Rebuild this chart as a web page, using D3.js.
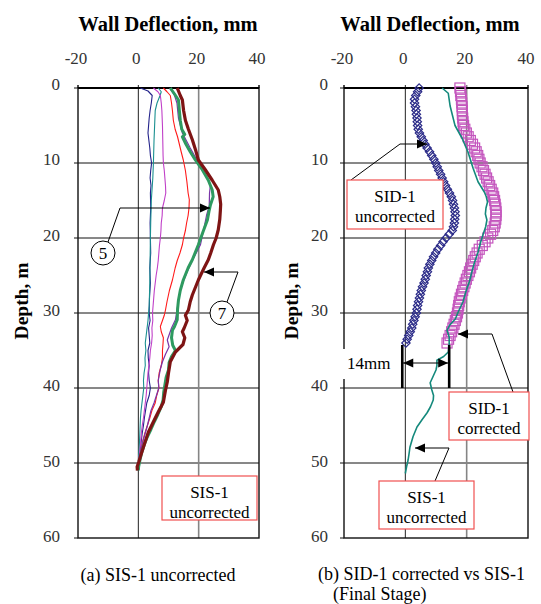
<!DOCTYPE html>
<html><head><meta charset="utf-8">
<script src="https://cdn.jsdelivr.net/npm/d3@7"></script>
<style>body{margin:0;background:#fff} svg{display:block} text{font-family:'Liberation Serif','Times New Roman',Times,serif}</style>
</head><body>
<svg id="c" width="541" height="604"></svg>
<script>
// ---------- DATA ----------
const xTicks = [-20, 0, 20, 40];
const yTicks = [0, 10, 20, 30, 40, 50, 60];

// Panel (a): SIS-1 uncorrected, [depth m, deflection mm]
const sisNavy = [[0,0.7],[0.4,3.2],[1,4.6],[2,4.3],[3,3.9],[4,3.6],[5,3.4],[6,3.2],[7,3.5],[8,3.8],[9,4.0],[10,4.4],[11,4.1],[12,3.9],[13,4.2],[14,4.0],[16,4.1],[18,3.9],[20,4.0],[22,4.1],[24,3.8],[26,4.0],[28,3.7],[30,3.6],[31,3.9],[32,3.4],[33,3.6],[34,3.8],[35,3.2],[36,3.3],[37,3.6],[38,3.4],[39,3.6],[40,4.0],[41,3.6],[42,2.8],[43,2.4],[44,2.0],[45,1.7],[46,1.3],[47,1.0],[48,0.7],[49,0.4],[50,0.1],[51,0]];
const sisTeal = [[0,6.6],[0.5,7.6],[1,7.2],[2,6.2],[3,5.6],[5,5.4],[7,5.2],[10,5.0],[12,4.8],[15,4.3],[18,4.1],[20,4.0],[23,3.9],[26,3.8],[29,3.6],[31,3.2],[33,2.6],[34,2.3],[35,2.5],[36,2.2],[37,2.3],[38,1.9],[39,1.7],[40,1.8],[41,1.5],[42,1.2],[43,0.9],[44,0.7],[45,0.6],[46,0.5],[47,0.4],[48,0.3],[49,0.1],[50,0]];
const sisMagenta = [[0,5.0],[0.5,6.5],[1,7.3],[2,7.6],[3,7.8],[5,8.0],[7,8.1],[9,8.2],[10,8.3],[11,8.6],[12,8.8],[13,9.0],[14,9.1],[15,8.6],[16,8.0],[17,7.9],[18,7.6],[19,7.5],[20,7.3],[21,7.0],[22,6.8],[23,6.6],[24,6.3],[25,5.9],[26,5.6],[27,5.3],[28,5.1],[29,4.9],[30,4.7],[31,4.8],[32,4.5],[33,4.6],[34,4.4],[35,4.0],[36,3.8],[37,3.5],[38,3.2],[39,3.0],[40,2.8],[41,2.6],[42,2.3],[43,2.0],[44,1.7],[45,1.3],[46,1.0],[47,0.8],[48,0.6],[49,0.3],[50,0.1]];
const sisRed = [[0,8.3],[0.5,9.5],[1,10.6],[2,11.0],[3,11.3],[4.3,11.6],[5.5,12.2],[6.5,13.0],[7.5,13.6],[8.5,14.2],[9.6,14.9],[11,15.6],[12.5,16.1],[14,16.5],[14.9,16.9],[16,16.8],[17,16.5],[18,16.0],[19,15.6],[20,15.0],[20.9,14.6],[22,13.8],[23,12.9],[24,12.2],[25.6,11.3],[27,10.3],[28.5,9.5],[29.6,9.0],[30.3,8.6],[31,8.0],[31.8,7.3],[32.5,7.6],[33.3,8.3],[34,8.2],[35,8.0],[36,8.0],[37,7.6],[38,6.9],[39,6.6],[40,6.8],[41,6.1],[42,5.6],[43,4.5],[44,3.8],[45,3.0],[46,2.2],[47,1.5],[48,1.0],[49,0.5],[50,0.2]];
const sisPurple = [[0,10.4],[1,12.0],[2,12.8],[4,13.3],[6,14.6],[8,17.2],[9.5,19.3],[11,21.5],[12.2,23.0],[12.9,23.9],[14,23.6],[15.7,23.5],[17,22.6],[19,21.6],[20.9,20.6],[22,19.2],[23,17.9],[24.5,16.2],[25.8,14.9],[26.9,13.9],[28.5,13.2],[29.5,12.9],[30.9,12.3],[32,11.0],[33.6,9.6],[34.5,10.2],[35.5,9.0],[36.5,8.0],[37.5,7.3],[39,6.6],[40,6.8],[41,6.0],[42,5.2],[43,4.2],[44,3.6],[45,3.0],[46,2.3],[47,1.6],[48,1.0],[49,0.5],[50,0.2]];
const sisGreen = [[0,10.6],[0.8,12.0],[1.6,13.3],[3,13.6],[4.3,13.9],[5.5,14.4],[6.2,15.4],[6.5,14.6],[7.5,15.8],[8.5,17.2],[9.6,18.9],[10.9,21.2],[12.3,23.2],[13.6,24.5],[14.5,24.8],[15.6,23.9],[16.5,23.4],[17.6,22.9],[19,21.6],[20.9,19.9],[22,18.8],[22.9,17.9],[24,16.5],[25.6,14.9],[27,13.9],[28.3,13.3],[29.5,13.0],[30.9,12.9],[31.8,12.0],[32.3,11.3],[33.3,11.0],[34.3,11.4],[35,12.3],[35.8,11.0],[36.6,10.2],[37.6,10.0],[38.6,9.2],[39.6,8.8],[40.6,8.4],[41.6,8.2],[42.5,7.6],[43.5,6.5],[44.5,5.3],[45.5,4.2],[46.5,3.0],[47.5,2.0],[48.5,1.2],[49.5,0.6],[50.5,0.1],[51,0]];
const sisFinal = [[0,12.9],[1,13.9],[1.6,14.6],[3,15.0],[4.3,15.6],[5.5,16.6],[6.9,17.9],[8.3,19.0],[9.6,19.9],[10.9,22.2],[12.3,24.5],[13.6,26.5],[14.5,27.0],[15.5,27.3],[16.3,27.2],[17.5,27.0],[18.9,26.5],[20,25.8],[20.9,24.9],[22,24.0],[22.9,23.2],[24,21.8],[25,20.6],[25.6,19.9],[26.5,19.0],[27.6,17.9],[28.5,17.2],[29.6,16.6],[30.3,15.6],[31,16.2],[32,15.2],[32.5,14.6],[33.3,15.4],[34.2,14.8],[35.2,12.3],[36.5,10.6],[38,10.0],[39.2,9.6],[40.3,9.0],[41.9,8.3],[43.2,6.6],[44.5,5.0],[45.9,3.3],[47,2.4],[48,1.6],[49,0.8],[49.8,0.2],[50.5,-0.4],[51,-0.3]];

// Panel (b)
const sidDepths = d3.range(0, 34.01, 0.5);
const sidUncorrected = [4.5,4.0,3.4,3.0,3.0,3.3,3.5,3.6,3.8,3.9,4.0,4.2,4.6,5.2,5.8,6.4,7.1,7.9,8.6,9.3,9.9,10.4,10.9,11.5,12.0,12.5,13.1,13.7,14.4,15.0,15.4,15.7,16.0,16.2,16.3,16.1,16.0,15.7,15.3,14.3,13.3,12.3,11.5,10.6,9.9,9.2,8.6,8.0,7.5,7.2,6.8,6.5,6.1,5.6,5.2,4.9,4.6,4.3,4.0,3.8,3.6,3.2,2.8,2.4,2.1,1.6,1.1,0.6,0.2];
const sidCorrected = [17.8,18.0,18.1,18.3,18.4,18.5,18.6,18.6,18.7,18.8,19.0,19.4,19.9,20.5,21.2,21.9,22.6,23.1,23.6,24.0,24.4,25.0,25.5,26.0,26.5,27.0,27.5,28.0,28.5,28.8,29.1,29.3,29.5,29.6,29.6,29.5,29.3,29.0,28.5,27.8,26.9,26.0,25.1,24.1,23.4,22.8,22.3,21.8,21.3,20.9,20.4,19.9,19.5,19.1,18.7,18.3,17.9,17.6,17.4,17.2,17.0,16.7,16.3,15.9,15.5,15.1,14.6,14.1,13.6];
const sisFinalB = [[0,12.0],[0.7,14.0],[2.4,14.6],[5,16.2],[6.7,18.5],[8.5,20.4],[10.7,22.1],[12.5,23.7],[13.9,25.8],[14.5,26.4],[15.2,26.8],[16.0,26.3],[16.8,26.1],[17.6,26.6],[18.5,26.2],[19.6,25.3],[20.5,24.6],[21.9,23.7],[23.2,22.6],[24.5,21.7],[25.8,20.9],[27.2,19.7],[28.5,18.8],[29.9,17.2],[30.8,16.3],[31.6,14.5],[32.3,13.6],[33.2,14.3],[34.2,14.3],[35.2,14.0],[35.8,12.5],[36.3,10.3],[37.0,10.3],[37.6,10.0],[38.5,9.0],[39.3,8.1],[40.2,8.6],[41.0,9.2],[41.6,9.1],[42.5,8.2],[43.3,7.1],[44.2,5.5],[45.2,3.8],[46.5,2.5],[47.9,1.5],[48.8,1.2],[49.6,0.9],[50.5,0.4],[51.4,0]];

// ---------- DRAW ----------
const svg = d3.select('#c');

function panel(cfg) {
  const x = d3.scaleLinear().domain([-20, 40]).range([cfg.left, cfg.right]);
  const y = d3.scaleLinear().domain([0, 60]).range([88, 538]);
  const g = svg.append('g');
  g.selectAll('.hg').data(yTicks.slice(1, -1)).join('line')
    .attr('x1', cfg.left - 4).attr('x2', cfg.right)
    .attr('y1', d => y(d)).attr('y2', d => y(d))
    .attr('stroke', '#111').attr('stroke-width', 1);
  g.append('line').attr('x1', cfg.left - 4).attr('x2', cfg.left).attr('y1', y(60)).attr('y2', y(60)).attr('stroke', '#111');
  g.append('line').attr('x1', cfg.left - 4).attr('x2', cfg.left).attr('y1', y(0)).attr('y2', y(0)).attr('stroke', '#111');
  g.append('line').attr('x1', x(0)).attr('x2', x(0)).attr('y1', y(0) - 3).attr('y2', y(60))
    .attr('stroke', '#222').attr('stroke-width', 1);
  g.append('line').attr('x1', x(20)).attr('x2', x(20)).attr('y1', y(0) - 3).attr('y2', y(60))
    .attr('stroke', '#858585').attr('stroke-width', 1.6);
  [x(-20), x(40)].forEach(px => g.append('line').attr('x1', px).attr('x2', px).attr('y1', y(0) - 3).attr('y2', y(0)).attr('stroke', '#111').attr('stroke-width', 1.5));
  g.append('rect').attr('x', cfg.left).attr('y', y(0)).attr('width', cfg.right - cfg.left).attr('height', y(60) - y(0))
    .attr('fill', 'none').attr('stroke', '#111').attr('stroke-width', 1.4);
  g.append('line').attr('x1', cfg.left).attr('x2', cfg.right).attr('y1', y(0)).attr('y2', y(0)).attr('stroke', '#000').attr('stroke-width', 2);
  g.selectAll('.xt').data(xTicks).join('text')
    .attr('x', d => x(d) - 2).attr('y', 64).attr('text-anchor', 'middle')
    .attr('font-size', 17).attr('fill', '#333').text(d => d);
  g.selectAll('.yt').data(yTicks).join('text')
    .attr('x', cfg.yLabX).attr('y', d => y(d) - 4 + d / 60 * 2).attr('dy', '0.35em').attr('text-anchor', 'end')
    .attr('font-size', 17).attr('fill', '#333').text(d => d);
  g.append('text').attr('x', cfg.titleX).attr('y', 31).attr('text-anchor', 'middle')
    .attr('font-size', 20.5).attr('font-weight', 'bold').text('Wall Deflection, mm');
  g.append('text').attr('transform', `translate(${cfg.depthX},${301}) rotate(-90)`).attr('text-anchor', 'middle')
    .attr('dy', '0.35em').attr('font-size', 19.5).attr('font-weight', 'bold').text('Depth, m');
  return {x, y, g};
}

const A = panel({left: 78, right: 259, yLabX: 60, titleX: 168, depthX: 21});
const B = panel({left: 344, right: 528, yLabX: 328, titleX: 430, depthX: 291});

function drawLine(P, data, color, width) {
  const line = d3.line().x(d => P.x(d[1])).y(d => P.y(d[0]));
  P.g.append('path').attr('d', line(data)).attr('fill', 'none').attr('stroke', color)
    .attr('stroke-width', width).attr('stroke-linejoin', 'round');
}

drawLine(A, sisNavy, '#22228a', 1.1);
drawLine(A, sisTeal, '#1a9090', 1.1);
drawLine(A, sisMagenta, '#c040c8', 1.1);
drawLine(A, sisRed, '#ff1a1a', 1.1);
drawLine(A, sisPurple, '#7a35a8', 1.2);
drawLine(A, sisGreen, '#2e9a60', 3);
drawLine(A, sisFinal, '#7e1414', 3.2);

const diamond = 'M0,-4.2L4.2,0L0,4.2L-4.2,0Z';
B.g.selectAll('.dia').data(sidDepths).join('path')
  .attr('d', diamond).attr('transform', (d, i) => `translate(${B.x(sidUncorrected[i])},${B.y(d)})`)
  .attr('fill', 'none').attr('stroke', '#2b2b88').attr('stroke-width', 1.2);
B.g.selectAll('.sq').data(sidDepths).join('rect')
  .attr('x', (d, i) => B.x(sidCorrected[i]) - 5).attr('y', d => B.y(d) - 5)
  .attr('width', 10).attr('height', 10)
  .attr('fill', 'none').attr('stroke', '#c455bd').attr('stroke-width', 1.2);
drawLine(B, sisFinalB, '#14897c', 1.6);

// ---------- ANNOTATIONS ----------
function arrowHead(from, tip) {
  const a = Math.atan2(tip[1] - from[1], tip[0] - from[0]);
  const L = 10, W = 4.5;
  const p1 = [tip[0] - L * Math.cos(a) + W * Math.sin(a), tip[1] - L * Math.sin(a) - W * Math.cos(a)];
  const p2 = [tip[0] - L * Math.cos(a) - W * Math.sin(a), tip[1] - L * Math.sin(a) + W * Math.cos(a)];
  svg.append('path').attr('d', `M${tip}L${p1}L${p2}Z`).attr('fill', '#000');
}
function pointer(pts) {
  svg.append('path').attr('d', d3.line()(pts)).attr('fill', 'none').attr('stroke', '#000').attr('stroke-width', 1);
  arrowHead(pts[pts.length - 2], pts[pts.length - 1]);
}
function box(x0, y0, x1, y1, lines) {
  svg.append('rect').attr('x', x0).attr('y', y0).attr('width', x1 - x0).attr('height', y1 - y0)
    .attr('fill', '#fff').attr('stroke', '#f05050').attr('stroke-width', 1.2);
  lines.forEach((t, i) => svg.append('text').attr('x', (x0 + x1) / 2).attr('y', y0 + 22 + i * 20)
    .attr('text-anchor', 'middle').attr('font-size', 17).text(t));
}
function circleLabel(cx, cy, t) {
  svg.append('circle').attr('cx', cx).attr('cy', cy).attr('r', 12).attr('fill', '#fff').attr('stroke', '#000').attr('stroke-width', 1);
  svg.append('text').attr('x', cx).attr('y', cy).attr('dy', '0.35em').attr('text-anchor', 'middle')
    .attr('font-size', 17).text(t);
}

pointer([[108, 242], [120, 208], [210, 208]]);
circleLabel(103, 253, '5');
pointer([[227, 302], [238, 272], [204, 272]]);
circleLabel(222, 313, '7');
box(162, 476, 257, 520, ['SIS-1', 'uncorrected']);

pointer([[351, 180], [400, 144], [427, 144]]);
box(347, 180, 443, 229, ['SID-1', 'uncorrected']);
pointer([[513, 392], [492, 334], [458, 334]]);
box(449, 392, 529, 440, ['SID-1', 'corrected']);
pointer([[435, 481], [449, 448], [415, 448]]);
box(379, 481, 474, 529, ['SIS-1', 'uncorrected']);

svg.append('rect').attr('x', 337).attr('y', 349).attr('width', 56).attr('height', 30).attr('fill', '#fff');
svg.append('text').attr('x', 347).attr('y', 369).attr('font-size', 17).text('14mm');
[B.x(-1), B.x(14.3)].forEach(px => svg.append('line').attr('x1', px).attr('x2', px).attr('y1', 345).attr('y2', 388)
  .attr('stroke', '#000').attr('stroke-width', 2.6));
svg.append('line').attr('x1', B.x(-1)).attr('x2', B.x(14.3)).attr('y1', 363).attr('y2', 363).attr('stroke', '#000').attr('stroke-width', 1);
arrowHead([B.x(5), 363], [B.x(-1) + 1, 363]);
arrowHead([B.x(8), 363], [B.x(14.3) - 1, 363]);

svg.append('text').attr('x', 158).attr('y', 581).attr('text-anchor', 'middle').attr('font-size', 18).text('(a) SIS-1 uncorrected');
svg.append('text').attr('x', 318).attr('y', 580).attr('font-size', 18).text('(b) SID-1 corrected vs SIS-1');
svg.append('text').attr('x', 333).attr('y', 600).attr('font-size', 18).text('(Final Stage)');
</script>
</body></html>
